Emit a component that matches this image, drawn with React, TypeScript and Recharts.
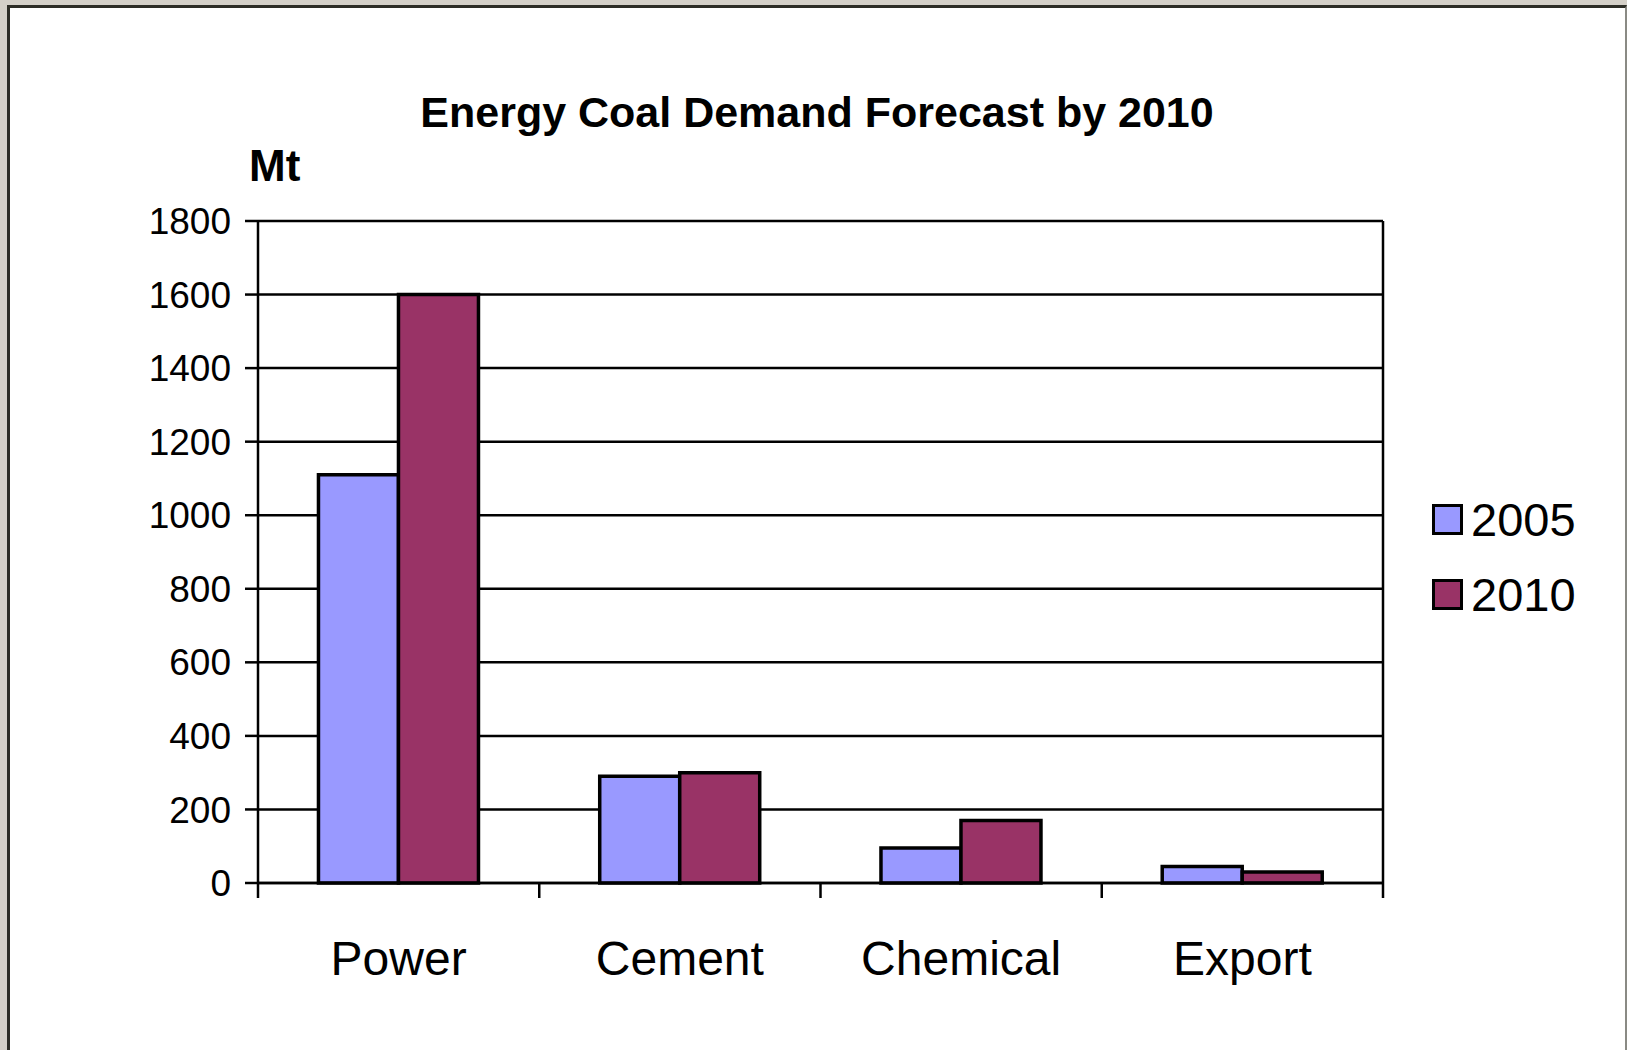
import React from 'react';
import { BarChart, Bar, XAxis, YAxis, CartesianGrid, Legend } from 'recharts';

const categories = ['Power', 'Cement', 'Chemical', 'Export'];
const demand2005 = [1110, 290, 95, 45];
const demand2010 = [1600, 300, 170, 30];
const yTicks = [0, 200, 400, 600, 800, 1000, 1200, 1400, 1600, 1800];

const series = [
  { key: 'y2005', name: '2005', color: '#9999ff' },
  { key: 'y2010', name: '2010', color: '#993366' },
];

const chartData = categories.map((category, i) => ({
  category,
  y2005: demand2005[i],
  y2010: demand2010[i],
}));

const W = 1627;
const H = 1050;
const xAxisHeight = 60;
const margin = { top: 221, right: 244, bottom: 167 - xAxisHeight, left: 158 };
const yAxisWidth = 100;
const plotWidth = W - margin.left - yAxisWidth - margin.right;
const font = '"Liberation Sans", Arial, sans-serif';

// category labels plus the small tick marks between categories
const CategoryTick = (props: any) => {
  const { x, y, payload, index } = props;
  const band = plotWidth / categories.length;
  const left = x - band / 2;
  return (
    <g>
      <line x1={left} x2={left} y1={y} y2={y + 15} stroke="#000" strokeWidth={2.5} />
      {index === categories.length - 1 && (
        <line x1={left + band} x2={left + band} y1={y} y2={y + 15} stroke="#000" strokeWidth={2.5} />
      )}
      <text x={x} y={y + 75} textAnchor="middle" dominantBaseline="central" fontSize={48} fontFamily={font} fill="#000">
        {payload.value}
      </text>
    </g>
  );
};

const LegendBox = () => (
  <div style={{ fontFamily: font }}>
    {series.map((s) => (
      <div key={s.key} style={{ display: 'flex', alignItems: 'center', height: 75 }}>
        <div
          style={{
            width: 31,
            height: 31,
            boxSizing: 'border-box',
            border: '3px solid #000',
            background: s.color,
            marginRight: 8,
          }}
        />
        <span style={{ fontSize: 47, lineHeight: '75px', color: '#000' }}>{s.name}</span>
      </div>
    ))}
  </div>
);

export default function App() {
  return (
    <div style={{ position: 'fixed', left: 0, top: 0, width: W, height: H, background: '#d4d0c8', overflow: 'hidden' }}>
      <div
        style={{
          position: 'absolute',
          left: 7,
          top: 5,
          width: W - 7,
          height: 1100,
          boxSizing: 'border-box',
          background: '#fff',
          borderTop: '3px solid #2d2d26',
          borderLeft: '3px solid #2d2d26',
          borderRight: '2px solid #8a8a84',
        }}
      />
      <div
        style={{
          position: 'absolute',
          left: 417,
          top: 87,
          width: 800,
          textAlign: 'center',
          fontFamily: font,
          fontWeight: 'bold',
          fontSize: 43,
          lineHeight: '50px',
          color: '#000',
        }}
      >
        Energy Coal Demand Forecast by 2010
      </div>
      <div
        style={{
          position: 'absolute',
          left: 249,
          top: 141,
          fontFamily: font,
          fontWeight: 'bold',
          fontSize: 44,
          lineHeight: '50px',
          color: '#000',
        }}
      >
        Mt
      </div>
      <div style={{ position: 'absolute', left: 0, top: 0 }}>
        <BarChart
          width={W}
          height={H}
          data={chartData}
          margin={margin}
          barCategoryGap="21.5%"
          barGap={0}
        >
          <CartesianGrid
            horizontal
            vertical
            verticalCoordinatesGenerator={({ offset }: any) => [offset.left + offset.width]}
            stroke="#000"
            strokeWidth={2.5}
          />
          <XAxis
            dataKey="category"
            tickLine={false}
            tickSize={0}
            tickMargin={0}
            axisLine={{ stroke: '#000', strokeWidth: 2.5 }}
            tick={<CategoryTick />}
            interval={0}
            height={xAxisHeight}
          />
          <YAxis
            width={yAxisWidth}
            domain={[0, 1800]}
            ticks={yTicks}
            interval={0}
            tickSize={13}
            tickMargin={14}
            tickLine={{ stroke: '#000', strokeWidth: 2.5 }}
            axisLine={{ stroke: '#000', strokeWidth: 2.5 }}
            tick={{ fontSize: 37, fontFamily: font, fill: '#000' }}
          />
          <Legend
            layout="horizontal"
            verticalAlign="middle"
            content={<LegendBox />}
            wrapperStyle={{ left: 1432, top: 482, width: 190 }}
          />
          {series.map((s) => (
            <Bar
              key={s.key}
              dataKey={s.key}
              name={s.name}
              fill={s.color}
              stroke="#000"
              strokeWidth={3.5}
              isAnimationActive={false}
            />
          ))}
        </BarChart>
      </div>
    </div>
  );
}
